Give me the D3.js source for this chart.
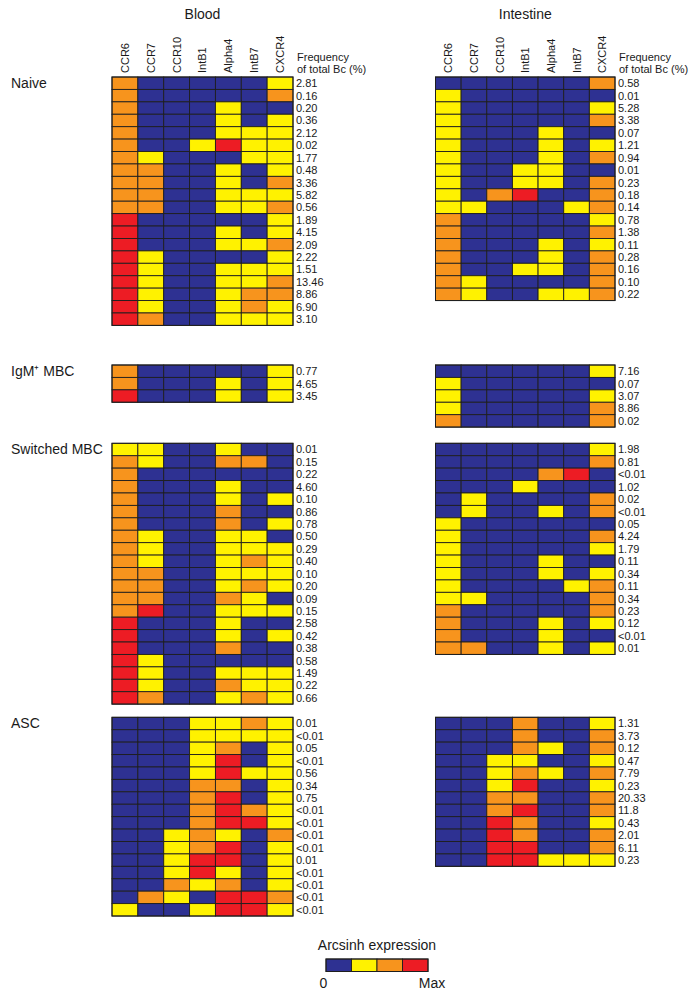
<!DOCTYPE html>
<html>
<head>
<meta charset="utf-8">
<script src="https://cdn.jsdelivr.net/npm/d3@7"></script>
<style>
  html, body { margin: 0; padding: 0; background: #fff; }
  svg { display: block; font-family: "Liberation Sans", Arial, Helvetica, sans-serif; }
</style>
</head>
<body>
<svg id="chart" width="695" height="996"></svg>
<script>
// ---------- DATA ----------
const markers = ["CCR6", "CCR7", "CCR10", "IntB1", "Alpha4", "IntB7", "CXCR4"];
const levels = [0, 1, 2, 3]; // 0 = none (0) ... 3 = Max
const levelColors = ["#2e3192", "#fff200", "#f7941d", "#ed1c24"];
const tissues = ["Blood", "Intestine"];
const subsets = ["Naive", "IgM\u207A MBC", "Switched MBC", "ASC"];

// Blood
const bloodNaive = [
  [2,0,0,0,0,0,1],[2,0,0,0,0,0,2],[2,0,0,0,1,0,0],[2,0,0,0,1,0,1],[2,0,0,0,1,1,1],
  [2,0,0,1,3,1,1],[2,1,0,0,0,1,1],[2,2,0,0,1,0,1],[2,2,0,0,1,0,2],[2,2,0,0,1,1,1],
  [2,2,0,0,1,1,2],[3,0,0,0,0,0,1],[3,0,0,0,1,0,1],[3,0,0,0,1,1,2],[3,1,0,0,0,0,1],
  [3,1,0,0,1,1,1],[3,1,0,0,1,1,2],[3,1,0,0,1,2,2],[3,1,0,0,1,2,1],[3,2,0,0,1,1,1]
];
const bloodNaiveFreq = ["2.81","0.16","0.20","0.36","2.12","0.02","1.77","0.48","3.36","5.82",
  "0.56","1.89","4.15","2.09","2.22","1.51","13.46","8.86","6.90","3.10"];

const bloodIgM = [[2,0,0,0,0,0,1],[2,0,0,0,1,0,1],[3,0,0,0,1,0,1]];
const bloodIgMFreq = ["0.77","4.65","3.45"];

const bloodSwitched = [
  [1,1,0,0,1,0,0],[2,1,0,0,2,2,0],[2,0,0,0,0,0,0],[2,0,0,0,1,0,0],[2,0,0,0,1,0,1],
  [2,0,0,0,2,0,0],[2,0,0,0,2,0,1],[2,1,0,0,1,1,0],[2,1,0,0,1,1,1],[2,1,0,0,1,2,1],
  [2,2,0,0,1,1,1],[2,2,0,0,1,2,1],[2,2,0,0,2,1,0],[2,3,0,0,1,1,1],[3,0,0,0,1,0,0],
  [3,0,0,0,1,0,1],[3,0,0,0,2,0,0],[3,1,0,0,0,0,0],[3,1,0,0,1,1,1],[3,1,0,0,2,1,1],
  [3,2,0,0,1,2,1]
];
const bloodSwitchedFreq = ["0.01","0.15","0.22","4.60","0.10","0.86","0.78","0.50","0.29","0.40",
  "0.10","0.20","0.09","0.15","2.58","0.42","0.38","0.58","1.49","0.22","0.66"];

const bloodASC = [
  [0,0,0,1,1,2,1],[0,0,0,1,1,1,1],[0,0,0,1,2,0,1],[0,0,0,1,3,0,1],[0,0,0,1,3,1,1],
  [0,0,0,2,2,0,1],[0,0,0,2,3,0,1],[0,0,0,2,3,2,1],[0,0,0,2,3,3,1],[0,0,1,2,1,0,2],
  [0,0,1,2,3,0,1],[0,0,1,3,3,0,1],[0,0,1,3,1,0,1],[0,0,2,1,2,0,1],[0,2,1,0,3,3,2],
  [1,0,0,1,3,3,1]
];
const bloodASCFreq = ["0.01","<0.01","0.05","<0.01","0.56","0.34","0.75","<0.01","<0.01","<0.01",
  "<0.01","0.01","<0.01","<0.01","<0.01","<0.01"];

// Intestine
const gutNaive = [
  [0,0,0,0,0,0,2],[1,0,0,0,0,0,0],[1,0,0,0,0,0,1],[1,0,0,0,0,0,2],[1,0,0,0,1,0,0],
  [1,0,0,0,1,0,1],[1,0,0,0,1,0,2],[1,0,0,1,1,0,0],[1,0,0,1,1,0,2],[1,0,2,3,0,0,2],
  [1,1,0,0,0,1,2],[2,0,0,0,0,0,1],[2,0,0,0,0,0,2],[2,0,0,0,1,0,1],[2,0,0,0,1,0,2],
  [2,0,0,1,1,0,2],[2,1,0,0,0,0,2],[2,1,0,0,1,1,2]
];
const gutNaiveFreq = ["0.58","0.01","5.28","3.38","0.07","1.21","0.94","0.01","0.23","0.18",
  "0.14","0.78","1.38","0.11","0.28","0.16","0.10","0.22"];

const gutIgM = [[0,0,0,0,0,0,1],[1,0,0,0,0,0,0],[1,0,0,0,0,0,1],[1,0,0,0,0,0,2],[2,0,0,0,0,0,2]];
const gutIgMFreq = ["7.16","0.07","3.07","8.86","0.02"];

const gutSwitched = [
  [0,0,0,0,0,0,1],[0,0,0,0,0,0,2],[0,0,0,0,2,3,0],[0,0,0,1,0,0,0],[0,1,0,0,0,0,2],
  [0,1,0,0,1,0,2],[1,0,0,0,0,0,0],[1,0,0,0,0,0,2],[1,0,0,0,0,0,1],[1,0,0,0,1,0,0],
  [1,0,0,0,1,0,1],[1,0,0,0,0,1,2],[1,1,0,0,0,0,2],[2,0,0,0,0,0,2],[2,0,0,0,1,0,1],
  [2,0,0,0,1,0,0],[2,2,0,0,1,0,1]
];
const gutSwitchedFreq = ["1.98","0.81","<0.01","1.02","0.02","<0.01","0.05","4.24","1.79","0.11",
  "0.34","0.11","0.34","0.23","0.12","<0.01","0.01"];

const gutASC = [
  [0,0,0,2,0,0,1],[0,0,0,2,0,0,2],[0,0,0,2,1,0,2],[0,0,1,1,0,0,1],[0,0,1,2,1,0,2],
  [0,0,1,3,0,0,1],[0,0,2,2,0,0,2],[0,0,2,3,0,0,2],[0,0,3,2,0,0,1],[0,0,3,2,0,0,2],
  [0,0,3,3,0,0,2],[0,0,3,3,1,1,1]
];
const gutASCFreq = ["1.31","3.73","0.12","0.47","7.79","0.23","20.33","11.8","0.43","2.01","6.11","0.23"];

const legendLabels = ["0", "Max"];
const freqHeader = ["Frequency", "of total Bc (%)"];

// ---------- LAYOUT ----------
const svg = d3.select("#chart");
const rowH = 12.42;
const groupTops = [77, 365, 443.3, 717.3];
const panelX = { Blood: [112, 293], Intestine: [435.5, 615] };
const panels = {
  Blood: [[bloodNaive, bloodNaiveFreq], [bloodIgM, bloodIgMFreq], [bloodSwitched, bloodSwitchedFreq], [bloodASC, bloodASCFreq]],
  Intestine: [[gutNaive, gutNaiveFreq], [gutIgM, gutIgMFreq], [gutSwitched, gutSwitchedFreq], [gutASC, gutASCFreq]]
};
const color = d3.scaleOrdinal().domain(levels).range(levelColors);
const stroke = "#1e1e1e";
const txt = "#1a1a1a";

tissues.forEach(tissue => {
  const [x0, x1] = panelX[tissue];
  const x = d3.scaleBand().domain(markers).range([x0, x1]).padding(0);

  // Title
  svg.append("text").attr("x", (x0 + x1) / 2).attr("y", 19)
    .attr("text-anchor", "middle").attr("font-size", 14).attr("fill", txt).text(tissue);

  // Column headers (rotated)
  svg.append("g").selectAll("text").data(markers).join("text")
    .attr("transform", d => `translate(${x(d) + x.bandwidth() / 2},73) rotate(-90)`)
    .attr("dy", "0.36em").attr("text-anchor", "start")
    .attr("font-size", 11).attr("fill", txt).text(d => d);

  // Frequency header
  svg.append("g").selectAll("text").data(freqHeader).join("text")
    .attr("x", x1 + 4).attr("y", (d, i) => 61 + i * 11.5)
    .attr("font-size", 11).attr("fill", txt).text(d => d);

  panels[tissue].forEach(([matrix, freq], gi) => {
    const top = groupTops[gi];
    const y = d3.scaleBand().domain(d3.range(matrix.length))
      .range([top, top + matrix.length * rowH]).padding(0);
    const g = svg.append("g");
    const cells = [];
    matrix.forEach((row, ri) => row.forEach((v, ci) => cells.push({ r: ri, c: markers[ci], v })));
    g.selectAll("rect").data(cells).join("rect")
      .attr("x", d => x(d.c)).attr("y", d => y(d.r))
      .attr("width", x.bandwidth()).attr("height", y.bandwidth())
      .attr("fill", d => color(d.v))
      .attr("stroke", stroke).attr("stroke-width", 0.9);
    g.append("rect").attr("x", x0).attr("y", top)
      .attr("width", x1 - x0).attr("height", matrix.length * rowH)
      .attr("fill", "none").attr("stroke", stroke).attr("stroke-width", 1);
    g.selectAll("text.freq").data(freq).join("text").attr("class", "freq")
      .attr("x", x1 + 3).attr("y", (d, i) => y(i) + y.bandwidth() / 2)
      .attr("dy", "0.36em").attr("font-size", 11).attr("fill", txt).text(d => d);
  });
});

// Subset labels
svg.append("g").selectAll("text").data(subsets).join("text")
  .attr("x", 11).attr("y", (d, i) => groupTops[i] + 10.5)
  .attr("font-size", 14).attr("fill", txt).text(d => d);

// Legend
const lx = d3.scaleBand().domain(levels).range([326, 428]);
svg.append("text").attr("x", 377).attr("y", 950).attr("text-anchor", "middle")
  .attr("font-size", 14).attr("fill", txt).text("Arcsinh expression");
svg.append("g").selectAll("rect").data(levels).join("rect")
  .attr("x", d => lx(d)).attr("y", 959).attr("width", lx.bandwidth()).attr("height", 12.5)
  .attr("fill", d => color(d)).attr("stroke", stroke).attr("stroke-width", 0.9);
svg.append("rect").attr("x", 326).attr("y", 959).attr("width", 102).attr("height", 12.5)
  .attr("fill", "none").attr("stroke", stroke).attr("stroke-width", 1);
svg.append("text").attr("x", 323.5).attr("y", 988).attr("text-anchor", "middle")
  .attr("font-size", 14).attr("fill", txt).text(legendLabels[0]);
svg.append("text").attr("x", 432).attr("y", 988).attr("text-anchor", "middle")
  .attr("font-size", 14).attr("fill", txt).text(legendLabels[1]);
</script>
</body>
</html>
